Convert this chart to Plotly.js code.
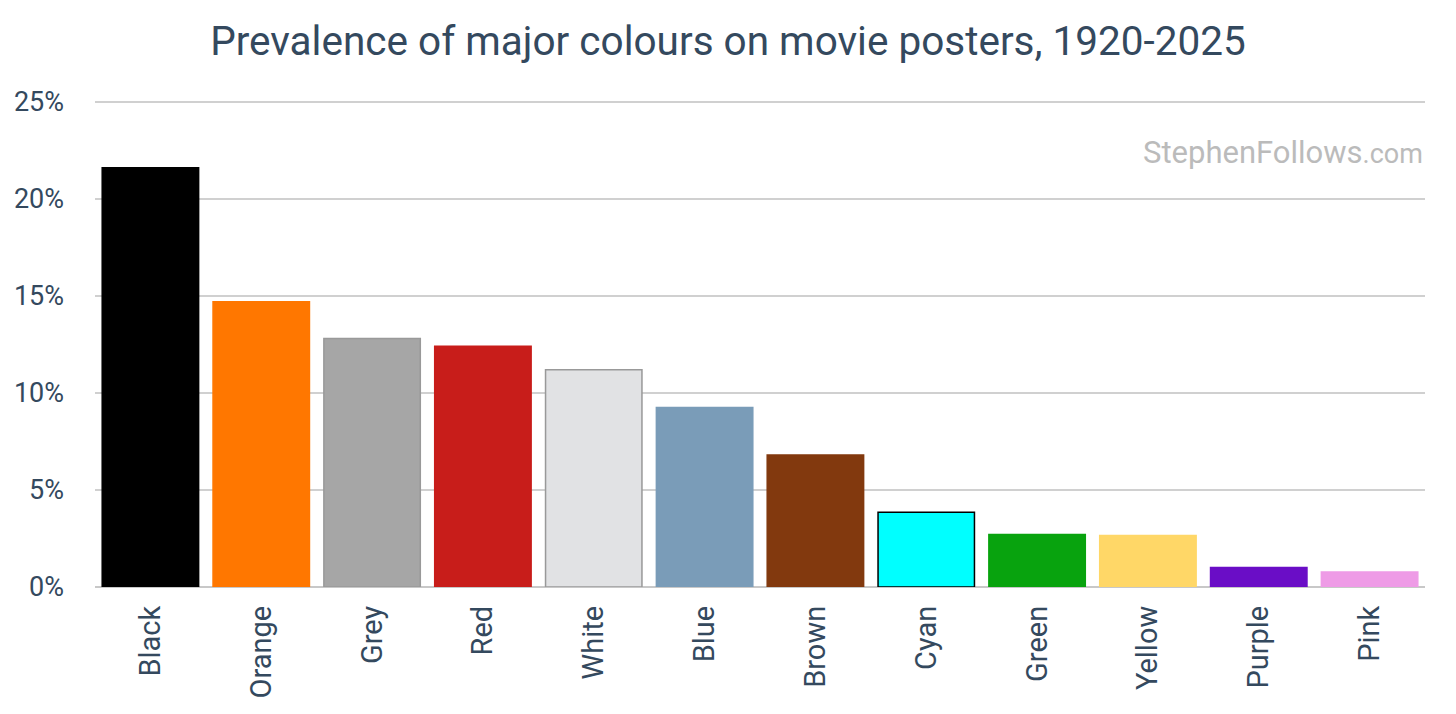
<!DOCTYPE html>
<html>
<head>
<meta charset="utf-8">
<script src="https://cdn.plot.ly/plotly-3.0.1.min.js"></script>
<style>html,body{margin:0;padding:0;background:#fff;}#chart{width:1456px;height:714px;}</style>
</head>
<body>
<div id="chart"></div>
<script>
const categories = ["Black","Orange","Grey","Red","White","Blue","Brown","Cyan","Green","Yellow","Purple","Pink"];
const shares = [21.6, 14.7, 12.8, 12.4, 11.2, 9.25, 6.8, 3.85, 2.7, 2.65, 1.0, 0.77];
const fillColours = ["#000000","#FF7700","#A6A6A6","#C81D1A","#E1E2E4","#7A9CB8","#82390E","#00FFFF","#08A30E","#FFD767","#6A0DC6","#EE9BE6"];
const lineColours = ["#000000","#FF7700","#999999","#C81D1A","#999999","#7A9CB8","#82390E","#000000","#08A30E","#FFD767","#6A0DC6","#EE9BE6"];
const yTicks = [0, 5, 10, 15, 20, 25];
const yTickLabels = ["0%","5%","10%","15%","20%","25%"];

const textColour = "#34495E";

Plotly.newPlot("chart", [{
  type: "bar",
  x: categories,
  y: shares,
  marker: {color: fillColours, line: {color: lineColours, width: 1.5}},
  hoverinfo: "x+y"
}], {
  width: 1456, height: 714,
  margin: {l: 95, r: 31, t: 96, b: 127},
  paper_bgcolor: "#ffffff",
  plot_bgcolor: "#ffffff",
  font: {family: "Roboto, sans-serif", color: textColour},
  title: {text: "Prevalence of major colours on movie posters, 1920-2025",
          font: {size: 40.5, color: textColour}, x: 0.5, xanchor: "center", y: 0.943, yanchor: "middle"},
  bargap: 0.13,
  xaxis: {tickangle: -90, tickfont: {size: 29, color: textColour}, showgrid: false, showline: false, ticks: "", ticklabelstandoff: 12},
  yaxis: {range: [0, 25.3], tickvals: yTicks, ticktext: yTickLabels, tickfont: {size: 27, color: textColour},
          showgrid: true, gridcolor: "#D0D0D0", gridwidth: 1.5, zeroline: true, zerolinecolor: "#C8C8C8", zerolinewidth: 1.5,
          showline: false, ticks: "", ticklabelstandoff: 30},
  annotations: [{text: "StephenFollows<span style='font-size:27px'>.com</span>", xref: "paper", yref: "paper", x: 1, y: 0.885,
                 xanchor: "right", yanchor: "middle", showarrow: false, font: {size: 31, color: "#BBBBBB"}}],
  showlegend: false
}, {displayModeBar: false, staticPlot: true});
</script>
</body>
</html>
